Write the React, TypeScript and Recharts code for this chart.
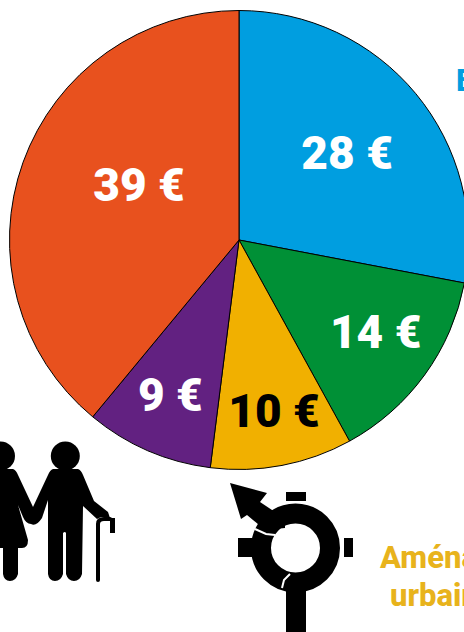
import { Cell, Pie, PieChart } from "recharts";

const categories = ["Bleu", "Vert", "Aménagement urbain", "Violet", "Orange"];
const amounts = [28, 14, 10, 9, 39];
const sliceColors = ["#009ee0", "#009036", "#f1b000", "#622181", "#e8511e"];
const labelColors = ["#fff", "#fff", "#000", "#fff", "#fff"];
// nudges away from the default slice centre, the labels were placed by hand
const labelNudge = [
  [2, 1],
  [3, -5],
  [4, 9],
  [-3, 3],
  [8, -16],
];

const chartData = categories.map((name, i) => ({ name, value: amounts[i] }));

const RADIAN = Math.PI / 180;

function renderAmount({ cx, cy, midAngle, outerRadius, index }: any) {
  const r = outerRadius * (index === 4 ? 0.5 : index === 0 ? 0.6 : 0.72);
  const x = cx + r * Math.cos(-midAngle * RADIAN) + labelNudge[index][0];
  const y = cy + r * Math.sin(-midAngle * RADIAN) + labelNudge[index][1];
  return (
    <text
      x={x}
      y={y}
      textAnchor="middle"
      dominantBaseline="central"
      fill={labelColors[index]}
      fontFamily="Roboto"
      fontWeight={900}
      fontSize={46}
    >
      {`${amounts[index]} €`}
    </text>
  );
}

function Couple() {
  return (
    <g fill="#000">
      <circle cx={0.5} cy={456} r={14.5} />
      <circle cx={65.3} cy={456} r={14.5} />
      <path d="M-14 469 L13 469 Q16 470 18 475 L33 507 L48 475 Q50 470 53 469 L78 469 Q81 470 83 475 L94 501 L108 512 L110 518 L101 517 L97 519 L83 506 L82 574 Q80 581 74 581 Q68 581 66 574 L66 533 Q65 531 63 533 L63 574 Q61 581 55 581 Q49 581 48 574 L48 500 L42 518 Q36 527 31 524 Q26 524 23 517 L18 505 L28 540 Q28 548 22 548 L18 548 L18 574 Q16 581 10 581 Q4 581 3 574 L3 548 L-14 548 Z" />
      <path
        d="M98 580 L98 524 Q98 519 104 519 L110 519"
        fill="none"
        stroke="#000"
        strokeWidth={4}
        strokeLinecap="round"
      />
      <rect x={110} y={518} width={5} height={15} />
    </g>
  );
}

function Roundabout() {
  return (
    <g fill="#000">
      <circle cx={295.5} cy={548} r={34.5} fill="none" stroke="#000" strokeWidth={20} />
      <rect x={286} y={492} width={20} height={9} />
      <rect x={238} y={538} width={16} height={19} />
      <rect x={344} y={538} width={9} height={19} />
      <path d="M230 483 L267 493 L260 502 L272 510 L285 515 L285 528 L265 530 L247 515 L241 519 Z" />
      <path d="M286 632 L286 583 Q286 576 296 574 L306 574 L306 632 Z" />
      <path d="M282 588 L284 580 L290 574" stroke="#fff" strokeWidth={2} fill="none" />
      <path d="M255 529 L266 534 L275 535" stroke="#fff" strokeWidth={2} fill="none" />
    </g>
  );
}

export default function App() {
  return (
    <div style={{ position: "absolute", left: 0, top: 0, width: 464, height: 632, overflow: "hidden" }}>
      <PieChart width={464} height={632} margin={{ top: 0, right: 0, bottom: 0, left: 0 }}>
        <Pie
          data={chartData}
          dataKey="value"
          cx={239}
          cy={240}
          outerRadius={229.5}
          startAngle={90}
          endAngle={-270}
          stroke="#000"
          strokeWidth={1}
          label={renderAmount}
          labelLine={false}
          isAnimationActive={false}
        >
          {chartData.map((row, i) => (
            <Cell key={row.name} fill={sliceColors[i]} />
          ))}
        </Pie>
      </PieChart>
      <svg
        width={464}
        height={632}
        style={{ position: "absolute", left: 0, top: 0, pointerEvents: "none" }}
      >
        <Couple />
        <Roundabout />
        <g fontFamily="Roboto" fontWeight={800} fontSize={31}>
          <text x={456} y={91} fill="#009ee0">E</text>
          <text x={380} y={568} fill="#e8b31c">Aménagement</text>
          <text x={390} y={606} fill="#e8b31c">urbain</text>
        </g>
      </svg>
    </div>
  );
}
